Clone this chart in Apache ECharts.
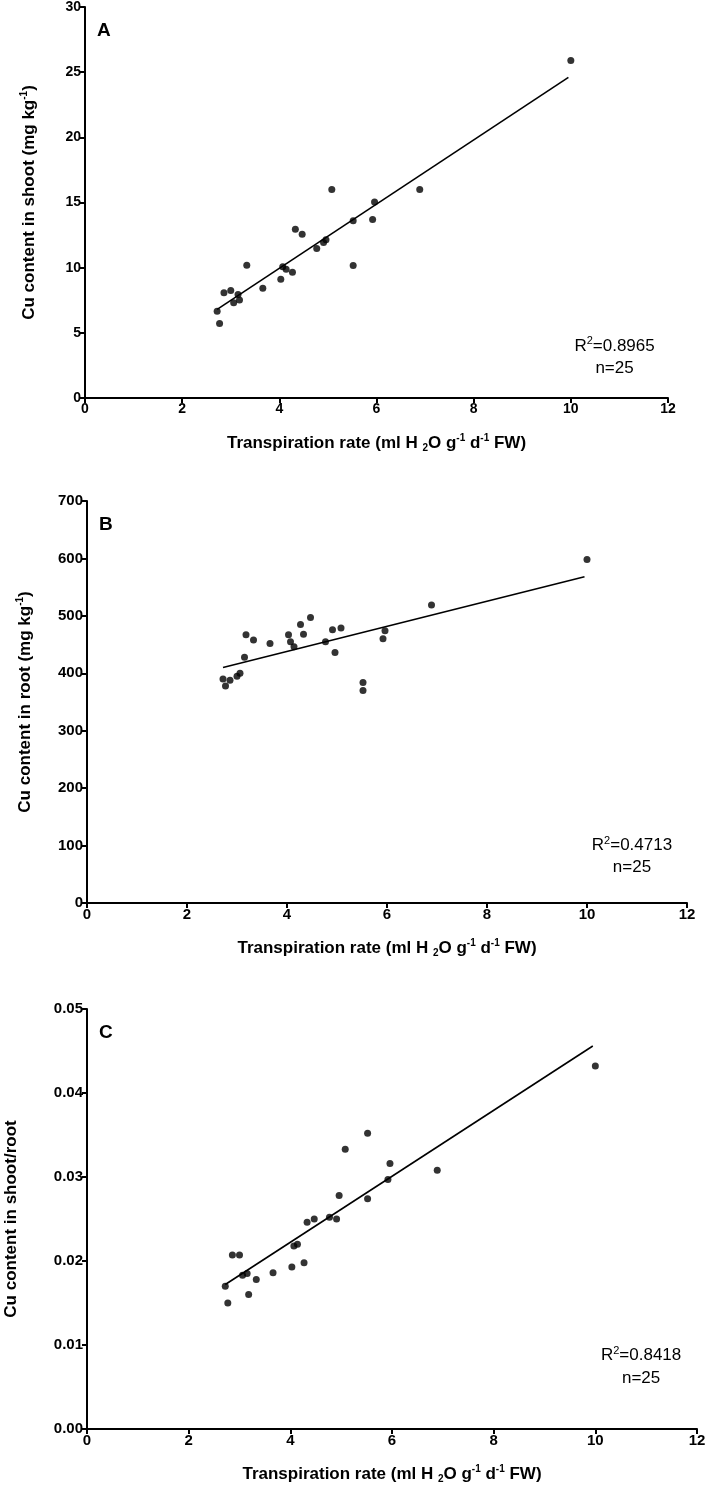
<!DOCTYPE html>
<html>
<head>
<meta charset="utf-8">
<script src="https://cdn.jsdelivr.net/npm/echarts@6/dist/echarts.min.js"></script>
<style>
html,body{margin:0;padding:0;background:#fff;}
#chart{width:725px;height:1491px;}
</style>
</head>
<body>
<div id="chart"></div>
<script>
// Shared x values (transpiration rate, ml H2O g-1 d-1 FW)
const transpiration = [2.72, 2.77, 2.86, 3.00, 3.06, 3.15, 3.18, 3.33, 3.66, 4.03, 4.07, 4.14, 4.27, 4.33, 4.47, 4.77, 4.91, 4.96, 5.08, 5.52, 5.52, 5.92, 5.96, 6.89, 10.0];
// Panel A: Cu content in shoot (mg/kg)
const cuShoot = [6.66, 5.72, 8.07, 8.25, 7.31, 7.94, 7.51, 10.19, 8.43, 9.12, 10.07, 9.88, 9.65, 12.95, 12.57, 11.47, 11.93, 12.14, 16.0, 13.6, 10.17, 13.7, 15.03, 16.0, 25.9];
// Panel B: Cu content in root (mg/kg)
const cuRoot = [390, 378, 388, 395, 400, 428, 467, 458, 452, 467, 455, 446, 485, 468, 497, 455, 476, 436, 479, 384, 370, 460, 474, 519, 598];
// Panel C: shoot/root ratio
const cuRatio = [0.0170, 0.0150, 0.0207, 0.0207, 0.0183, 0.0185, 0.0160, 0.0178, 0.0186, 0.0193, 0.0218, 0.0220, 0.0198, 0.0246, 0.0250, 0.0252, 0.0250, 0.0278, 0.0333, 0.0352, 0.0274, 0.0297, 0.0316, 0.0308, 0.0432];
// Regression line end points
const fitA = [[2.72, 6.8], [9.95, 24.6]];
const fitB = [[2.72, 410], [9.95, 568]];
const fitC = [[2.72, 0.0172], [9.95, 0.0456]];
// Tick settings
const xTicks = {min: 0, max: 12, interval: 2};
const yTicksA = {min: 0, max: 30, interval: 5};
const yTicksB = {min: 0, max: 700, interval: 100};
const yTicksC = {min: 0, max: 0.05, interval: 0.01};
const panelLetters = ['A', 'B', 'C'];
const r2Texts = ['0.8965', '0.4713', '0.8418'];
const nText = 'n=25';
const yNames = [
  'Cu content in shoot (mg kg{sup|-1})',
  'Cu content in root (mg kg{sup|-1})',
  'Cu content in shoot/root'
];
const xName = 'Transpiration rate (ml H {sub|2}O g{sup|-1} d{sup|-1} FW)';

const FONT = 'Liberation Sans, Arial, sans-serif';
const grids = [
  {left: 85, top: 7, width: 583, height: 391, outerBoundsMode: 'none', containLabel: false},
  {left: 87, top: 501, width: 600, height: 402, outerBoundsMode: 'none', containLabel: false},
  {left: 87, top: 1009, width: 610, height: 420, outerBoundsMode: 'none', containLabel: false}
];
const tickFont = [14, 15, 15];
const yNameGap = [46, 52, 66];

function richName() {
  return {
    sup: {fontSize: 10, fontWeight: 'bold', fontFamily: FONT, color: '#000', verticalAlign: 'top', lineHeight: 20},
    sub: {fontSize: 10, fontWeight: 'bold', fontFamily: FONT, color: '#000', verticalAlign: 'bottom', lineHeight: 20}
  };
}

function axisCommon(i) {
  return {
    axisLine: {show: true, onZero: false, lineStyle: {color: '#000', width: 2}},
    axisTick: {show: true, length: 5, lineStyle: {color: '#000', width: 2}},
    axisLabel: {color: '#000', fontWeight: 'bold', fontSize: tickFont[i], fontFamily: FONT, margin: 4},
    splitLine: {show: false},
    nameTextStyle: {color: '#000', fontWeight: 'bold', fontSize: 17, fontFamily: FONT, lineHeight: 20, rich: richName()}
  };
}

const xAxes = [0, 1, 2].map(i => Object.assign(axisCommon(i), {
  type: 'value', gridIndex: i, min: xTicks.min, max: xTicks.max, interval: xTicks.interval,
  name: xName, nameLocation: 'middle', nameGap: 35
}));
const yt = [yTicksA, yTicksB, yTicksC];
const yAxes = [0, 1, 2].map(i => {
  const a = Object.assign(axisCommon(i), {
    type: 'value', gridIndex: i, min: yt[i].min, max: yt[i].max, interval: yt[i].interval,
    name: yNames[i], nameLocation: 'middle', nameGap: yNameGap[i], nameRotate: 90
  });
  if (i === 2) a.axisLabel.formatter = v => v.toFixed(2);
  return a;
});

const ys = [cuShoot, cuRoot, cuRatio];
const fits = [fitA, fitB, fitC];
const series = [];
for (let i = 0; i < 3; i++) {
  series.push({
    type: 'scatter', xAxisIndex: i, yAxisIndex: i, symbolSize: 7,
    itemStyle: {color: '#000'},
    data: transpiration.map((x, k) => [x, ys[i][k]])
  });
  series.push({
    type: 'line', xAxisIndex: i, yAxisIndex: i, symbol: 'none',
    lineStyle: {color: '#000', width: 1.6},
    data: fits[i]
  });
}

const chart = echarts.init(document.getElementById('chart'), null, {renderer: 'canvas'});
chart.setOption({
  backgroundColor: '#fff',
  animation: false,
  grid: grids,
  xAxis: xAxes,
  yAxis: yAxes,
  series: series
});

// annotations placed in data coordinates via the chart's own scales
const annoPos = [
  {r2: [10.9, 4.0], n: [10.9, 2.3]},
  {r2: [10.9, 100], n: [10.9, 62]},
  {r2: [10.9, 0.0088], n: [10.9, 0.0060]}
];
const graphics = [];
for (let i = 0; i < 3; i++) {
  const pR = chart.convertToPixel({gridIndex: i}, annoPos[i].r2);
  const pN = chart.convertToPixel({gridIndex: i}, annoPos[i].n);
  graphics.push({type: 'text', x: grids[i].left + 12, y: grids[i].top + 24, style: {text: panelLetters[i], font: 'bold 19px ' + FONT, fill: '#000', verticalAlign: 'middle'}});
  graphics.push({type: 'text', x: pR[0], y: pR[1], style: {
    text: '{t|R}{s|2}{t|=' + r2Texts[i] + '}', align: 'center', verticalAlign: 'middle',
    rich: {t: {font: '17px ' + FONT, fill: '#000', lineHeight: 20}, s: {font: '11px ' + FONT, fill: '#000', verticalAlign: 'top', lineHeight: 20}}
  }});
  graphics.push({type: 'text', x: pN[0], y: pN[1], style: {text: nText, font: '17px ' + FONT, fill: '#000', align: 'center', verticalAlign: 'middle'}});
}
chart.setOption({graphic: graphics});
</script>
</body>
</html>
